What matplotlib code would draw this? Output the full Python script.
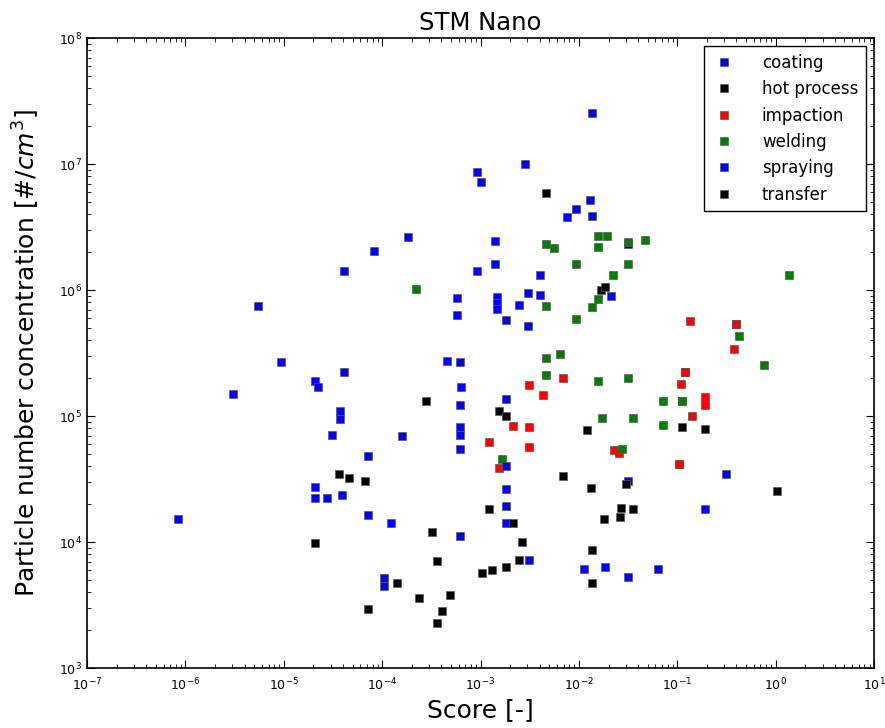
import matplotlib
matplotlib.use("Agg")
import matplotlib.pyplot as plt

# score / particle number concentration
coating_x = [8.4e-7, 3.05e-6, 5.5e-6, 9.4e-6, 2.08e-5, 2.23e-5, 4.1e-5, 3.74e-5, 3.74e-5, 3.1e-5,
             7.2e-5, 2.08e-5, 2.08e-5, 2.76e-5, 3.92e-5, 7.2e-5, 1.24e-4, 1.6e-4, 1.05e-4, 1.05e-4,
             8.3e-5, 4.1e-5, 1.84e-4, 4.6e-4, 6.2e-4, 6.4e-4, 6.2e-4, 6.2e-4, 6.2e-4, 6.2e-4,
             6.2e-4, 9.3e-4, 1.02e-3, 5.8e-4]
coating_y = [1.52e4, 1.5e5, 7.5e5, 2.7e5, 1.9e5, 1.7e5, 2.23e5, 1.1e5, 9.5e4, 7.1e4,
             4.8e4, 2.73e4, 2.23e4, 2.23e4, 2.36e4, 1.64e4, 1.42e4, 6.9e4, 5.2e3, 4.5e3,
             2.04e6, 1.42e6, 2.64e6, 2.74e5, 2.68e5, 1.7e5, 1.22e5, 8.2e4, 7.1e4, 5.5e4,
             1.12e4, 8.6e6, 7.2e6, 8.6e5]

spraying_x = [5.8e-4, 1.42e-3, 1.42e-3, 9.3e-4, 1.48e-3, 1.48e-3, 1.48e-3, 2.48e-3, 3.07e-3, 4.06e-3,
              1.83e-3, 3.07e-3, 4.06e-3, 2.86e-3, 1.37e-2, 7.5e-3, 9.4e-3, 1.31e-2, 1.37e-2, 2.14e-2,
              1.83e-3, 1.83e-3, 1.83e-3, 1.83e-3, 1.83e-3, 3.14e-3, 1.14e-2, 1.86e-2, 3.12e-2, 6.3e-2,
              3.12e-2, 0.19, 0.31]
spraying_y = [6.3e5, 2.45e6, 1.61e6, 1.42e6, 8.8e5, 7.9e5, 7.1e5, 7.6e5, 9.5e5, 9.1e5,
              5.8e5, 5.2e5, 1.31e6, 1.0e7, 2.54e7, 3.8e6, 4.4e6, 5.2e6, 3.86e6, 8.96e5,
              1.36e5, 4.0e4, 2.64e4, 1.93e4, 1.42e4, 7.2e3, 6.1e3, 6.3e3, 5.3e3, 6.1e3,
              3.05e4, 1.83e4, 3.47e4]

hot_x = [3.66e-5, 4.6e-5, 6.7e-5, 2.08e-5, 7.2e-5, 2.8e-4, 3.23e-4, 3.63e-4, 1.42e-4, 2.38e-4,
         4.93e-4, 4.08e-4, 3.63e-4, 1.23e-3, 1.04e-3, 1.32e-3, 1.83e-3, 1.55e-3, 1.83e-3,
         3.12e-2, 0.113, 0.119, 0.103, 0.392]
hot_y = [3.47e4, 3.2e4, 3.05e4, 9.8e3, 2.94e3, 1.32e5, 1.2e4, 7.1e3, 4.7e3, 3.6e3,
         3.8e3, 2.83e3, 2.28e3, 1.83e4, 5.7e3, 6.0e3, 6.3e3, 1.1e5, 1.0e5,
         2.32e6, 1.32e5, 2.23e5, 4.16e4, 5.4e5]

transfer_x = [2.16e-3, 2.66e-3, 2.48e-3, 4.68e-3, 1.66e-2, 1.86e-2, 6.97e-3, 1.22e-2, 1.34e-2, 2.98e-2,
              2.71e-2, 3.59e-2, 2.59e-2, 1.78e-2, 1.37e-2, 1.37e-2, 0.111, 0.19, 1.03]
transfer_y = [1.42e4, 1.0e4, 7.2e3, 5.9e6, 1.0e6, 1.06e6, 3.34e4, 7.7e4, 2.68e4, 2.9e4,
              1.86e4, 1.83e4, 1.58e4, 1.52e4, 8.6e3, 4.7e3, 8.2e4, 7.9e4, 2.54e4]

impaction_x = [1.23e-3, 1.55e-3, 2.16e-3, 3.14e-3, 3.14e-3, 3.14e-3, 4.35e-3, 6.97e-3, 2.3e-2, 2.53e-2,
               0.103, 0.108, 0.119, 0.136, 0.141, 0.19, 0.19, 0.374, 0.392]
impaction_y = [6.2e4, 3.87e4, 8.3e4, 8.2e4, 5.7e4, 1.76e5, 1.47e5, 2.0e5, 5.4e4, 5.1e4,
               4.16e4, 1.8e5, 2.23e5, 5.7e5, 1.0e5, 1.42e5, 1.22e5, 3.4e5, 5.4e5]

welding_x = [2.22e-4, 4.68e-3, 5.6e-3, 9.4e-3, 4.68e-3, 9.4e-3, 1.37e-2, 1.55e-2, 1.55e-2, 1.95e-2,
             1.55e-2, 3.12e-2, 4.75e-2, 3.12e-2, 2.2e-2, 4.68e-3, 6.5e-3, 4.68e-3, 1.55e-2, 3.12e-2,
             1.7e-2, 3.59e-2, 7.1e-2, 0.113, 7.1e-2, 2.77e-2, 1.67e-3, 0.42, 0.755, 1.36]
welding_y = [1.02e6, 2.32e6, 2.15e6, 1.61e6, 7.5e5, 5.9e5, 7.3e5, 8.5e5, 2.68e6, 2.68e6,
             2.19e6, 2.4e6, 2.5e6, 1.61e6, 1.31e6, 2.9e5, 3.1e5, 2.1e5, 1.9e5, 2.0e5,
             9.6e4, 9.6e4, 1.32e5, 1.32e5, 8.5e4, 5.5e4, 4.6e4, 4.3e5, 2.54e5, 1.31e6]

fig = plt.figure(figsize=(8.85, 7.28), dpi=100)
ax = fig.add_axes([0.0983, 0.0824, 0.8893, 0.8654])

style = dict(linestyle='none', marker='s', markersize=6.2, markeredgewidth=0.5, markeredgecolor='0.35')
ax.plot(coating_x, coating_y, color='b', label='coating', **style)
ax.plot(hot_x, hot_y, color='k', label='hot process', **style)
ax.plot(impaction_x, impaction_y, color='r', label='impaction', **style)
ax.plot(welding_x, welding_y, color='g', label='welding', **style)
ax.plot(spraying_x, spraying_y, color='b', label='spraying', **style)
ax.plot(transfer_x, transfer_y, color='k', label='transfer', **style)

ax.set_xscale('log')
ax.set_yscale('log')
ax.set_xlim(1e-7, 1e1)
ax.set_ylim(1e3, 1e8)

ax.tick_params(which='both', direction='in', top=True, right=True, labelsize=9)
ax.tick_params(which='major', length=6)
ax.tick_params(which='minor', length=3)
ax.tick_params(axis='x', pad=6)
for s in ax.spines.values():
    s.set_linewidth(1.2)

ax.set_title('STM Nano', fontsize=17.5)
ax.set_xlabel('Score [-]', fontsize=18)
ax.set_ylabel(r'Particle number concentration [$\#/cm^3$]', fontsize=18, labelpad=12)

leg = ax.legend(loc='upper right', numpoints=1, fontsize=12, fancybox=False,
                edgecolor='k', framealpha=1, handlelength=1.5, handletextpad=1.5,
                borderpad=0.45, labelspacing=0.5, borderaxespad=0.5)
leg.get_frame().set_linewidth(1.0)

fig.savefig('out.png', dpi=100)
